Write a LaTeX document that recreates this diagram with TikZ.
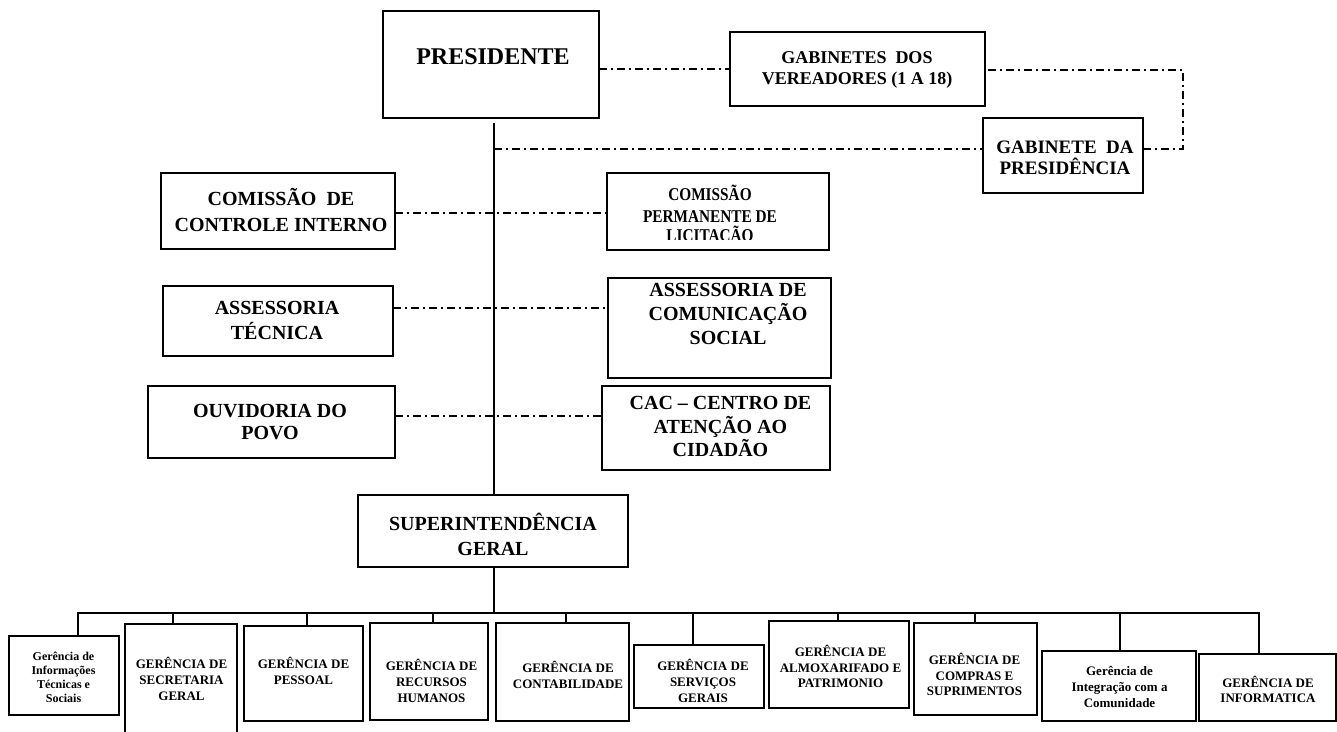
\documentclass[tikz,border=0pt]{standalone}
\usepackage{fontspec}
\setmainfont{Liberation Serif}
\newfontfamily\narrowfont{Liberation Serif}[FakeStretch=0.85]
\tikzset{
  box/.style={draw, rectangle, line width=1.8pt, inner sep=0pt, outer sep=0pt},
  txt/.style={align=center, inner sep=0pt},
  tf/.style 2 args={font=\bfseries\fontsize{#1}{#2}\selectfont},
  link/.style={line width=1.6pt},
  dd/.style={line width=1.4pt, dash pattern=on 8pt off 4pt on 2pt off 4pt},
}
\newcommand\orgbox[5]{\node[box, minimum width={(#4)-(#2)}, minimum height={(#5)-(#3)}] (#1) at ({((#2)+(#4))/2},{((#3)+(#5))/2}) {};}
\begin{document}
\begin{tikzpicture}[x=1pt, y=-1pt]
\clip (0,0) rectangle (1337,731);
\fill[white] (0,0) rectangle (1337,731);

% ---- top level ----
\orgbox{pres}{383}{11}{599}{118}
\node[txt, tf={24}{28}] (prest) at (493,57) {PRESIDENTE};

\orgbox{gab}{730}{32}{985}{106}
\node[txt, tf={18}{21}] (gabt) at (857,69.5) {GABINETES\ \ DOS\\VEREADORES (1 A 18)};

\orgbox{gp}{983}{118}{1143}{193}
\node[txt, tf={19}{21}] (gpt) at (1065,157.5) {GABINETE\ \ DA\\PRESIDÊNCIA};

% ---- staff boxes ----
\orgbox{cci}{161}{173}{395}{249}
\node[txt, tf={20}{26}] (ccit) at (281,210) {COMISSÃO\ \ DE\\CONTROLE INTERNO};

\orgbox{cpl}{607}{173}{829}{250}
\node[txt, font=\narrowfont\bfseries\fontsize{18}{21.5}\selectfont] (cplt) at (710,204) {COMISSÃO\\PERMANENTE DE};
\begin{scope}
  \clip (600,180) rectangle (840,239);
  \node[txt, font=\narrowfont\bfseries\fontsize{18}{21.5}\selectfont] (cplt3) at (710,235.5) {LICITAÇÃO};
\end{scope}

\orgbox{at}{163}{286}{393}{356}
\node[txt, tf={20}{25}] (att) at (277,320.5) {ASSESSORIA\\TÉCNICA};

\orgbox{asc}{608}{278}{831}{378}
\node[txt, tf={20}{24}] (asct) at (728,314) {ASSESSORIA DE\\COMUNICAÇÃO\\SOCIAL};

\orgbox{ouv}{148}{386}{395}{458}
\node[txt, tf={20}{22}] (ouvt) at (270,422.5) {OUVIDORIA DO\\POVO};

\orgbox{cac}{602}{386}{830}{470}
\node[txt, tf={20}{23.5}] (cact) at (720.5,426.5) {CAC – CENTRO DE\\ATENÇÃO AO\\CIDADÃO};

\orgbox{sup}{358}{495}{628}{567}
\node[txt, tf={20}{25}] (supt) at (493,534.5) {SUPERINTENDÊNCIA\\GERAL};

% ---- bottom row ----
\orgbox{b1}{9}{636}{119}{715}
\node[txt, tf={12}{14}] (b1t) at (63.5,677) {Gerência de\\Informações\\Técnicas e\\Sociais};
\orgbox{b2}{125}{624}{237}{760}
\node[txt, tf={13}{16}] (b2t) at (181.5,679) {GERÊNCIA DE\\SECRETARIA\\GERAL};
\orgbox{b3}{244}{626}{363}{721}
\node[txt, tf={13}{16}] (b3t) at (303.5,671) {GERÊNCIA DE\\PESSOAL};
\orgbox{b4}{370}{623}{488}{720}
\node[txt, tf={13}{16}] (b4t) at (431.5,681) {GERÊNCIA DE\\RECURSOS\\HUMANOS};
\orgbox{b5}{496}{623}{629}{721}
\node[txt, tf={13}{16}] (b5t) at (568,675) {GERÊNCIA DE\\CONTABILIDADE};
\orgbox{b6}{634}{645}{764}{708}
\node[txt, tf={13}{16}] (b6t) at (703,681) {GERÊNCIA DE\\SERVIÇOS\\GERAIS};
\orgbox{b7}{769}{621}{909}{708}
\node[txt, tf={13}{15.5}] (b7t) at (840.5,666.5) {GERÊNCIA DE\\ALMOXARIFADO E\\PATRIMONIO};
\orgbox{b8}{914}{623}{1037}{715}
\node[txt, tf={13}{15.5}] (b8t) at (974.5,674.5) {GERÊNCIA DE\\COMPRAS E\\SUPRIMENTOS};
\orgbox{b9}{1042}{651}{1196}{721}
\node[txt, tf={13}{16}] (b9t) at (1119.5,687) {Gerência de\\Integração com a\\Comunidade};
\orgbox{b10}{1199}{654}{1336}{721}
\node[txt, tf={13}{15.5}] (b10t) at (1268,689.5) {GERÊNCIA DE\\INFORMATICA};

% ---- solid connectors ----
\coordinate (vtop) at (494,123);
\draw[link] (vtop) -- (vtop |- sup.north);
\coordinate (d1) at (78,613);
\coordinate (d2) at (173,613);
\coordinate (d3) at (307,613);
\coordinate (d4) at (433,613);
\coordinate (d5) at (566,613);
\coordinate (d6) at (693,613);
\coordinate (d7) at (838,613);
\coordinate (d8) at (975,613);
\coordinate (d9) at (1120,613);
\coordinate (d10) at (1259,613);
\draw[link] (vtop |- sup.south) -- (vtop |- d1);
\draw[link] (d1 |- b1.north) -- (d1) -- (d10) -- (d10 |- b10.north);
\foreach \i in {2,...,9} {
  \draw[link] (d\i) -- (d\i |- b\i.north);
}

% ---- dash-dot connectors ----
\draw[dd] (gab.west -| pres.east) -- (gab.west);
\coordinate (j1) at (494,149);
\coordinate (loop) at (1183,70);
\draw[dd] (j1) -- (j1 -| gp.west);
\draw[dd] (gp.east |- j1) -| (loop) -- (loop -| gab.east);
\coordinate (j2) at (494,213);
\coordinate (j3) at (494,308);
\coordinate (j4) at (494,416);
\draw[dd] (j2 -| cci.east) -- (j2 -| cpl.west);
\draw[dd] (j3 -| at.east) -- (j3 -| asc.west);
\draw[dd] (j4 -| ouv.east) -- (j4 -| cac.west);
\end{tikzpicture}
\end{document}
